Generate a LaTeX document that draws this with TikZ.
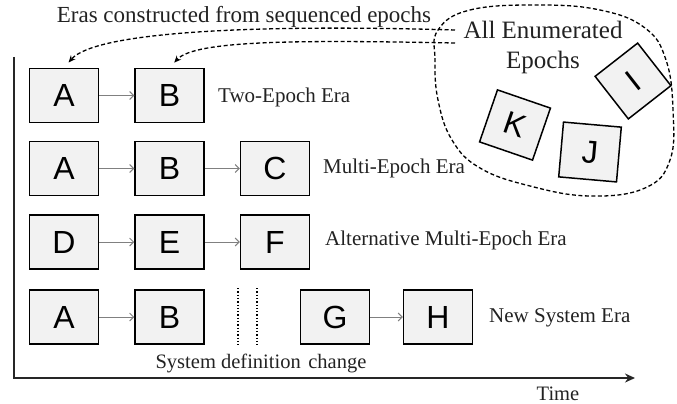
\documentclass[tikz,border=0pt]{standalone}
\usepackage{fontspec}
\setmainfont{Liberation Serif}
\newfontfamily\boxfont{Liberation Sans}
\usetikzlibrary{arrows.meta}
\definecolor{boxfill}{HTML}{F2F2F2}
\definecolor{txt}{HTML}{222222}
\definecolor{conn}{HTML}{808080}
\begin{document}
\begin{tikzpicture}[x=1pt,y=-1pt,
  epoch/.style={draw=black,line width=1.5pt,fill=boxfill,minimum width=69pt,minimum height=54pt,inner sep=0pt,font=\boxfont\fontsize{32}{34}\selectfont},
  repoch/.style={draw=black,line width=1.5pt,fill=boxfill,minimum width=54pt,minimum height=54pt,inner sep=0pt,font=\boxfont\fontsize{32}{34}\selectfont},
  link/.style={draw=conn,line width=0.9pt,-{Straight Barb[length=4pt,width=8pt]}},
  lbl/.style={anchor=west,inner sep=0pt,text=txt,font=\fontsize{21}{24}\selectfont},
  pick/.style={draw=black,line width=1.3pt,dashed,dash pattern=on 4pt off 2.5pt,-{Stealth[length=7pt,width=6pt]},shorten >=7pt},
  sep/.style={draw=black,line width=1.3pt,dotted}
]
\useasboundingbox (0,0) rectangle (677,404);
% axes
\coordinate (ytop) at (14,57);
\coordinate (orig) at (14,378);
\coordinate (xend) at (635,378);
\draw[line width=1.5pt,draw=black!85,-{Stealth[length=10pt,width=9pt]}] (ytop) -- (orig) -- (xend);
\node[text=txt,font=\fontsize{20.5}{23}\selectfont] (time) at (558,394) {Time};

% title
\node[text=txt,font=\fontsize{23}{26}\selectfont] (title) at (244,17) {Eras constructed from sequenced epochs};

% row 1
\node[epoch] (a1) at (64,95.5) {A};
\node[epoch] (b1) at (169.5,95.5) {B};
\draw[link] (a1) -- (b1);
\node[lbl] (l1) at (218,97) {Two-Epoch Era};

% row 2
\node[epoch] (a2) at (64,168.5) {A};
\node[epoch] (b2) at (169.5,168.5) {B};
\node[epoch] (c2) at (275,168.5) {C};
\draw[link] (a2) -- (b2);
\draw[link] (b2) -- (c2);
\node[lbl] (l2) at (323,168) {Multi-Epoch Era};

% row 3
\node[epoch] (d3) at (64,242) {D};
\node[epoch] (e3) at (169.5,242) {E};
\node[epoch] (f3) at (275,242) {F};
\draw[link] (d3) -- (e3);
\draw[link] (e3) -- (f3);
\node[lbl] (l3) at (325,240) {Alternative Multi-Epoch Era};

% row 4
\node[epoch] (a4) at (64,317) {A};
\node[epoch] (b4) at (169.5,317) {B};
\node[epoch] (g4) at (335,317) {G};
\node[epoch] (h4) at (438,317) {H};
\draw[link] (a4) -- (b4);
\draw[link] (g4) -- (h4);
\node[lbl] (l4) at (489,318) {New System Era};
\coordinate (s1t) at (238,288);
\coordinate (s1b) at (238,347);
\coordinate (s2t) at (257,288);
\coordinate (s2b) at (257,347);
\draw[sep] (s1t) -- (s1b);
\draw[sep] (s2t) -- (s2b);
\node[text=txt,font=\fontsize{20.5}{23}\selectfont] (sdc) at (261,363) {System definition\hspace{0.12em} change};

% enumerated epochs blob
\draw[black,line width=1.3pt,dash pattern=on 4pt off 2.5pt] plot[smooth cycle,tension=0.7] coordinates {
  (438,30) (470,10) (537,5) (600,10) (645,28) (666,60) (673,110) (670,160)
  (645,188) (590,196) (530,186) (480,168) (452,140) (438,100) (435,60)};
\node[text=txt,font=\fontsize{25}{28}\selectfont] (ae) at (543,30) {All Enumerated};
\node[text=txt,font=\fontsize{25}{28}\selectfont] (ep) at (543,62) {Epochs};
\node[repoch,rotate=38] (i) at (633,81) {I};
\node[repoch,rotate=-19,minimum width=56pt,minimum height=55pt] (k) at (515,125) {K};
\node[repoch,rotate=-5,minimum width=58pt,minimum height=55pt] (j) at (590,152) {J};

% selection arrows
\coordinate (p1) at (455,30);
\coordinate (p2) at (455,43);
\draw[pick] (p1) .. controls (250,24) and (95,32) .. (a1.north);
\draw[pick] (p2) .. controls (300,40) and (195,40) .. (b1.north);
\end{tikzpicture}
\end{document}
